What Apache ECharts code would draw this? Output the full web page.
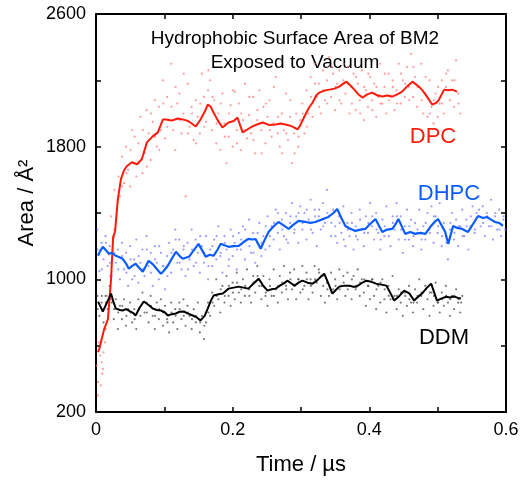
<!DOCTYPE html>
<html>
<head>
<meta charset="utf-8">
<script src="https://cdn.jsdelivr.net/npm/echarts@6/dist/echarts.min.js"></script>
<style>html,body{margin:0;padding:0;background:#fff;}#c{width:522px;height:481px;}</style>
</head>
<body>
<div id="c"></div>
<script>
// ---- data (time in µs, area in Å²) ----
var dpcLineT = [0.003,0.005,0.012,0.0175,0.022,0.025,0.028,0.032,0.0365,0.041,0.045,0.0525,0.060,0.067,0.0745,0.083,0.0905,0.098,0.102,0.111,0.120,0.131,0.136,0.140,0.146,0.153,0.159,0.1635,0.168,0.172,0.178,0.185,0.194,0.2015,0.207,0.2145,0.222,0.229,0.2365,0.244,0.254,0.263,0.270,0.277,0.283,0.289,0.295,0.299,0.305,0.311,0.317,0.3225,0.327,0.334,0.3415,0.349,0.356,0.362,0.3665,0.372,0.378,0.384,0.390,0.397,0.404,0.4115,0.419,0.426,0.4335,0.441,0.448,0.4555,0.463,0.470,0.477,0.4845,0.492,0.498,0.502,0.5095,0.515,0.521,0.5285];
var dpcLineV = [560,584,700,760,1000,1250,1292,1484,1604,1658,1682,1706,1694,1724,1826,1862,1886,1964,1964,1958,1970,1960,1952,1940,1922,1964,2010,2054,2040,2006,1960,1916,1946,1955,1976,1886,1905,1922,1935,1946,1930,1934,1940,1934,1928,1918,1904,1930,1982,2030,2066,2110,2126,2138,2144,2150,2162,2180,2192,2170,2144,2115,2096,2115,2126,2110,2102,2108,2102,2115,2132,2165,2192,2170,2144,2100,2054,2065,2084,2144,2140,2144,2132];

var dhpcLineT = [0.003,0.006,0.010,0.0145,0.019,0.023,0.029,0.0335,0.039,0.044,0.048,0.0525,0.058,0.063,0.0685,0.073,0.077,0.082,0.085,0.0905,0.095,0.099,0.105,0.111,0.117,0.1225,0.127,0.131,0.136,0.143,0.150,0.156,0.1605,0.1665,0.172,0.178,0.1825,0.188,0.194,0.2015,0.209,0.216,0.223,0.229,0.2335,0.241,0.2465,0.2525,0.260,0.267,0.2745,0.282,0.289,0.2965,0.3065,0.314,0.321,0.330,0.340,0.3475,0.353,0.359,0.365,0.372,0.3795,0.387,0.394,0.4015,0.409,0.4145,0.419,0.426,0.4335,0.438,0.4425,0.448,0.4525,0.460,0.467,0.4745,0.482,0.489,0.4965,0.5005,0.5065,0.511,0.5155,0.5225,0.5285,0.536,0.540,0.5445,0.552,0.559,0.5665,0.572,0.578,0.584,0.590,0.5955];
var dhpcLineV = [1142,1170,1196,1175,1154,1160,1142,1135,1124,1095,1064,1080,1094,1070,1046,1080,1112,1095,1082,1055,1034,1050,1082,1125,1166,1140,1124,1130,1136,1175,1214,1170,1136,1148,1142,1180,1214,1205,1196,1200,1202,1225,1244,1240,1243,1184,1235,1286,1320,1346,1325,1304,1330,1352,1346,1340,1346,1360,1376,1400,1424,1370,1322,1305,1292,1300,1304,1335,1364,1320,1286,1300,1304,1330,1364,1315,1274,1285,1274,1280,1274,1315,1350,1364,1320,1286,1214,1322,1310,1304,1295,1286,1335,1382,1370,1376,1360,1346,1340,1322];

var ddmLineT = [0.003,0.006,0.010,0.016,0.022,0.025,0.029,0.035,0.039,0.044,0.048,0.054,0.058,0.064,0.070,0.077,0.083,0.089,0.095,0.101,0.105,0.111,0.117,0.1225,0.1285,0.134,0.1415,0.1475,0.153,0.159,0.1635,0.168,0.172,0.1795,0.1855,0.190,0.194,0.2015,0.209,0.216,0.223,0.2305,0.238,0.245,0.251,0.257,0.263,0.2685,0.2745,0.280,0.286,0.2905,0.2965,0.302,0.3095,0.317,0.324,0.330,0.334,0.340,0.346,0.352,0.356,0.3635,0.371,0.3765,0.381,0.388,0.3955,0.403,0.410,0.4175,0.425,0.4305,0.4365,0.444,0.451,0.4585,0.4655,0.4715,0.477,0.4845,0.4905,0.495,0.499,0.505,0.5125,0.518,0.524,0.530,0.534];
var ddmLineV = [866,840,806,860,914,870,824,815,812,820,812,798,782,830,866,845,824,815,812,800,782,790,794,805,806,795,782,770,752,780,824,870,902,910,914,930,944,950,956,950,944,975,1004,960,932,940,944,960,974,992,975,962,980,992,980,974,995,1020,1034,975,914,940,956,962,962,955,956,975,992,985,974,968,962,920,872,900,932,915,872,895,914,950,974,920,872,884,895,890,896,888,884];

var dpcPts = [[0.001,480],[0.003,380],[0.004,620],[0.006,540],[0.008,500],[0.009,430],[0.011,560],[0.013,620],[0.016,900],[0.019,1150],[0.022,1380],[0.025,1260],[0.027,1540],[0.030,1420],[0.033,1620],[0.035,1500],[0.038,1740],[0.041,1580],[0.044,1800],[0.047,1660],[0.050,1560],[0.053,1900],[0.056,1700],[0.059,1620],[0.062,1820],[0.065,1980],[0.068,1640],[0.071,1760],[0.074,2020],[0.077,1880],[0.080,1720],[0.083,1950],[0.086,2080],[0.089,1800],[0.092,2040],[0.095,1900],[0.098,2200],[0.101,1850],[0.104,2100],[0.107,1960],[0.110,2300],[0.113,1900],[0.116,1780],[0.119,2060],[0.122,2120],[0.125,1880],[0.128,2000],[0.131,1500],[0.134,2180],[0.137,1920],[0.140,2040],[0.143,1840],[0.146,2080],[0.149,1980],[0.152,1880],[0.155,2240],[0.158,2100],[0.161,1950],[0.164,2140],[0.167,2200],[0.170,1900],[0.173,2080],[0.176,1820],[0.179,2000],[0.182,1780],[0.185,2120],[0.188,1940],[0.191,1700],[0.194,1860],[0.197,2050],[0.200,1800],[0.203,2130],[0.206,1900],[0.209,2060],[0.212,1780],[0.215,1960],[0.218,2180],[0.221,1850],[0.224,1990],[0.227,1880],[0.230,2100],[0.233,1760],[0.236,1960],[0.239,2140],[0.242,1900],[0.245,2040],[0.248,1820],[0.251,1980],[0.254,2080],[0.257,1860],[0.260,1940],[0.263,2220],[0.266,1880],[0.269,1800],[0.272,2000],[0.275,1900],[0.278,2120],[0.281,1840],[0.284,1980],[0.287,1700],[0.290,1880],[0.293,2000],[0.296,1800],[0.299,1960],[0.302,2060],[0.305,1880],[0.308,2140],[0.311,2000],[0.314,2220],[0.317,1980],[0.320,2300],[0.323,2100],[0.326,2180],[0.329,2000],[0.332,2260],[0.335,2080],[0.338,2200],[0.341,2340],[0.344,2100],[0.347,2240],[0.350,2020],[0.353,2180],[0.356,2260],[0.359,2060],[0.362,2200],[0.365,2120],[0.368,2280],[0.371,2000],[0.374,2160],[0.377,2240],[0.380,2020],[0.383,2180],[0.386,2080],[0.389,2260],[0.392,1960],[0.395,2140],[0.398,2040],[0.401,2220],[0.404,2080],[0.407,2180],[0.410,1980],[0.413,2100],[0.416,2300],[0.419,2060],[0.422,2160],[0.425,2000],[0.428,2240],[0.431,2100],[0.434,2200],[0.437,2020],[0.440,2140],[0.443,2300],[0.446,2060],[0.449,2200],[0.452,2100],[0.455,2280],[0.458,2160],[0.461,2360],[0.464,2100],[0.467,2220],[0.470,2040],[0.473,2160],[0.476,2300],[0.479,2000],[0.482,2120],[0.485,1980],[0.488,2200],[0.491,2040],[0.494,1940],[0.497,2120],[0.500,1980],[0.503,2060],[0.506,2200],[0.509,2000],[0.512,2160],[0.515,2260],[0.518,2080],[0.521,2200],[0.524,2040],[0.527,2320],[0.530,2120],[0.533,2000],
[0.0025,300],[0.007,360],[0.010,460],[0.0145,700],[0.0205,1020],[0.0265,1300],[0.0325,1480],[0.0385,1560],[0.0445,1640],[0.0505,1780],[0.0565,1860],[0.0625,1700],[0.0685,1900],[0.0745,1680],[0.0805,2000],[0.0865,1860],[0.0925,1780],[0.0985,2060],[0.1045,1920],[0.1105,2040],[0.1165,2160],[0.1225,1960],[0.1285,2240],[0.1345,1880],[0.1405,2000],[0.1465,1820],[0.1525,2060],[0.1585,1920],[0.1645,2260],[0.1705,2100],[0.1765,1940],[0.1825,2060],[0.1885,1860],[0.1945,2000],[0.2005,2140],[0.2065,1820],[0.2125,2000],[0.2185,1900],[0.2245,2100],[0.2305,1840],[0.2365,2020],[0.2425,1760],[0.2485,2060],[0.2545,1900],[0.2605,2160],[0.2665,1980],[0.2725,1760],[0.2785,1880],[0.2845,2080],[0.2905,1760],[0.2965,1860],[0.3025,2000],[0.3085,1920],[0.3145,2100],[0.3205,2180],[0.3265,2040],[0.3325,2140],[0.3385,2060],[0.3445,2280],[0.3505,2160],[0.3565,2080],[0.3625,2300],[0.3685,2180],[0.3745,2060],[0.3805,2220],[0.3865,2000],[0.3925,2160],[0.3985,2240],[0.4045,2020],[0.4105,2160],[0.4165,2060],[0.4225,2240],[0.4285,2080],[0.4345,2160],[0.4405,2060],[0.4465,2240],[0.4525,2180],[0.4585,2080],[0.4645,2280],[0.4705,2160],[0.4765,2080],[0.4825,2220],[0.4885,2000],[0.4945,2080],[0.5005,2160],[0.5065,2060],[0.5125,2240],[0.5185,2140],[0.5245,2200],[0.5305,2060]];

var dhpcPts = [[0.002,1300],[0.005,1050],[0.008,1220],[0.011,1120],[0.014,1260],[0.017,1080],[0.020,1200],[0.023,1020],[0.026,1250],[0.029,1100],[0.032,1180],[0.035,1000],[0.038,1220],[0.041,1060],[0.044,1160],[0.047,960],[0.050,1200],[0.053,1000],[0.056,1120],[0.059,1240],[0.062,980],[0.065,1100],[0.068,1180],[0.071,1020],[0.074,1260],[0.077,1080],[0.080,1160],[0.083,960],[0.086,1200],[0.089,1100],[0.092,1000],[0.095,1160],[0.098,1080],[0.101,940],[0.104,1140],[0.107,1220],[0.110,1040],[0.113,1180],[0.116,1300],[0.119,1100],[0.122,1240],[0.125,1060],[0.128,1180],[0.131,1020],[0.134,1220],[0.137,1120],[0.140,1300],[0.143,1080],[0.146,1240],[0.149,1160],[0.152,1040],[0.155,1200],[0.158,1100],[0.161,1260],[0.164,1000],[0.167,1180],[0.170,1080],[0.173,1240],[0.176,1120],[0.179,1320],[0.182,1140],[0.185,1040],[0.188,1260],[0.191,1180],[0.194,1080],[0.197,1300],[0.200,1140],[0.203,1220],[0.206,1060],[0.209,1280],[0.212,1180],[0.215,1320],[0.218,1120],[0.221,1240],[0.224,1360],[0.227,1160],[0.230,1280],[0.233,1100],[0.236,1220],[0.239,1340],[0.242,1140],[0.245,1260],[0.248,1180],[0.251,1380],[0.254,1200],[0.257,1320],[0.260,1240],[0.263,1420],[0.266,1280],[0.269,1180],[0.272,1360],[0.275,1260],[0.278,1400],[0.281,1220],[0.284,1340],[0.287,1460],[0.290,1280],[0.293,1380],[0.296,1220],[0.299,1440],[0.302,1300],[0.305,1400],[0.308,1240],[0.311,1360],[0.314,1480],[0.317,1280],[0.320,1420],[0.323,1200],[0.326,1380],[0.329,1300],[0.332,1460],[0.335,1340],[0.338,1540],[0.341,1380],[0.344,1260],[0.347,1420],[0.350,1320],[0.353,1220],[0.356,1380],[0.359,1280],[0.362,1440],[0.365,1200],[0.368,1340],[0.371,1260],[0.374,1400],[0.377,1180],[0.380,1320],[0.383,1240],[0.386,1420],[0.389,1300],[0.392,1200],[0.395,1380],[0.398,1280],[0.401,1460],[0.404,1320],[0.407,1240],[0.410,1400],[0.413,1280],[0.416,1180],[0.419,1360],[0.422,1260],[0.425,1440],[0.428,1300],[0.431,1200],[0.434,1380],[0.437,1300],[0.440,1460],[0.443,1240],[0.446,1380],[0.449,1160],[0.452,1320],[0.455,1420],[0.458,1240],[0.461,1360],[0.464,1200],[0.467,1340],[0.470,1280],[0.473,1420],[0.476,1180],[0.479,1320],[0.482,1240],[0.485,1400],[0.488,1300],[0.491,1440],[0.494,1220],[0.497,1380],[0.500,1280],[0.503,1460],[0.506,1200],[0.509,1340],[0.512,1260],[0.515,1120],[0.518,1300],[0.521,1400],[0.524,1240],[0.527,1360],[0.530,1200],[0.533,1320],[0.536,1420],[0.539,1260],[0.542,1360],[0.545,1180],[0.548,1320],[0.551,1440],[0.554,1280],[0.557,1400],[0.560,1500],[0.563,1320],[0.566,1440],[0.569,1260],[0.572,1400],[0.575,1320],[0.578,1480],[0.581,1240],[0.584,1380],[0.587,1300],[0.590,1420],[0.593,1260],[0.596,1360],[0.599,1300],
[0.0025,1180],[0.0085,1060],[0.0145,1220],[0.0205,1100],[0.0265,1160],[0.0325,1060],[0.0385,1140],[0.0445,1040],[0.0505,1120],[0.0565,1020],[0.0625,1140],[0.0685,1060],[0.0745,1180],[0.0805,1040],[0.0865,1120],[0.0925,1200],[0.0985,1080],[0.1045,1020],[0.1105,1160],[0.1165,1240],[0.1225,1100],[0.1285,1200],[0.1345,1060],[0.1405,1180],[0.1465,1100],[0.1525,1260],[0.1585,1160],[0.1645,1080],[0.1705,1200],[0.1765,1260],[0.1825,1160],[0.1885,1220],[0.1945,1120],[0.2005,1260],[0.2065,1180],[0.2125,1240],[0.2185,1300],[0.2245,1200],[0.2305,1160],[0.2365,1280],[0.2425,1220],[0.2485,1320],[0.2545,1260],[0.2605,1340],[0.2665,1400],[0.2725,1300],[0.2785,1240],[0.2845,1380],[0.2905,1300],[0.2965,1400],[0.3025,1340],[0.3085,1420],[0.3145,1300],[0.3205,1380],[0.3265,1420],[0.3325,1320],[0.3385,1400],[0.3445,1340],[0.3505,1260],[0.3565,1340],[0.3625,1240],[0.3685,1300],[0.3745,1340],[0.3805,1260],[0.3865,1360],[0.3925,1280],[0.3985,1340],[0.4045,1380],[0.4105,1300],[0.4165,1240],[0.4225,1320],[0.4285,1260],[0.4345,1340],[0.4405,1380],[0.4465,1300],[0.4525,1240],[0.4585,1320],[0.4645,1260],[0.4705,1300],[0.4765,1240],[0.4825,1340],[0.4885,1280],[0.4945,1380],[0.5005,1320],[0.5065,1260],[0.5125,1220],[0.5185,1340],[0.5245,1280],[0.5305,1320],[0.5365,1260],[0.5425,1320],[0.5485,1380],[0.5545,1300],[0.5605,1420],[0.5665,1340],[0.5725,1380],[0.5785,1320],[0.5845,1400],[0.5905,1300],[0.5965,1380]];

var ddmPts = [[0.002,900],[0.005,780],[0.008,860],[0.011,740],[0.014,900],[0.017,820],[0.020,960],[0.023,860],[0.026,760],[0.029,880],[0.032,700],[0.035,840],[0.038,760],[0.041,880],[0.044,720],[0.047,820],[0.050,860],[0.053,740],[0.056,820],[0.059,700],[0.062,880],[0.065,780],[0.068,920],[0.071,800],[0.074,860],[0.077,740],[0.080,900],[0.083,780],[0.086,700],[0.089,860],[0.092,760],[0.095,880],[0.098,720],[0.101,840],[0.104,760],[0.107,680],[0.110,860],[0.113,740],[0.116,820],[0.119,700],[0.122,860],[0.125,760],[0.128,880],[0.131,720],[0.134,840],[0.137,780],[0.140,700],[0.143,820],[0.146,740],[0.149,860],[0.152,680],[0.155,780],[0.158,640],[0.161,740],[0.164,860],[0.167,780],[0.170,920],[0.173,840],[0.176,1000],[0.179,880],[0.182,800],[0.185,960],[0.188,860],[0.191,1020],[0.194,900],[0.197,840],[0.200,980],[0.203,880],[0.206,1040],[0.209,920],[0.212,860],[0.215,1000],[0.218,900],[0.221,1060],[0.224,940],[0.227,860],[0.230,1020],[0.233,920],[0.236,1080],[0.239,960],[0.242,880],[0.245,1020],[0.248,900],[0.251,840],[0.254,1000],[0.257,900],[0.260,1060],[0.263,940],[0.266,860],[0.269,1020],[0.272,920],[0.275,1080],[0.278,960],[0.281,880],[0.284,1040],[0.287,940],[0.290,1060],[0.293,880],[0.296,1000],[0.299,920],[0.302,1080],[0.305,960],[0.308,1040],[0.311,880],[0.314,1000],[0.317,920],[0.320,1080],[0.323,980],[0.326,1060],[0.329,900],[0.332,1020],[0.335,860],[0.338,980],[0.341,900],[0.344,1040],[0.347,940],[0.350,1000],[0.353,880],[0.356,1060],[0.359,960],[0.362,1020],[0.365,900],[0.368,1040],[0.371,960],[0.374,880],[0.377,1020],[0.380,940],[0.383,1060],[0.386,900],[0.389,1000],[0.392,920],[0.395,840],[0.398,960],[0.401,880],[0.404,1000],[0.407,900],[0.410,820],[0.413,960],[0.416,860],[0.419,1000],[0.422,880],[0.425,800],[0.428,960],[0.431,880],[0.434,1020],[0.437,900],[0.440,820],[0.443,940],[0.446,860],[0.449,780],[0.452,920],[0.455,840],[0.458,960],[0.461,860],[0.464,800],[0.467,940],[0.470,860],[0.473,1000],[0.476,900],[0.479,820],[0.482,960],[0.485,880],[0.488,780],[0.491,920],[0.494,840],[0.497,980],[0.500,860],[0.503,800],[0.506,920],[0.509,840],[0.512,960],[0.515,860],[0.518,780],[0.521,900],[0.524,820],[0.527,940],[0.530,860],[0.533,800],[0.536,900],
[0.0025,820],[0.0085,900],[0.0145,860],[0.0205,880],[0.0265,820],[0.0325,800],[0.0385,840],[0.0445,780],[0.0505,800],[0.0565,760],[0.0625,820],[0.0685,860],[0.0745,800],[0.0805,840],[0.0865,780],[0.0925,820],[0.0985,800],[0.1045,740],[0.1105,800],[0.1165,780],[0.1225,820],[0.1285,780],[0.1345,800],[0.1405,760],[0.1465,780],[0.1525,740],[0.1585,720],[0.1645,800],[0.1705,860],[0.1765,900],[0.1825,940],[0.1885,900],[0.1945,960],[0.2005,920],[0.2065,980],[0.2125,940],[0.2185,960],[0.2245,900],[0.2305,980],[0.2365,1020],[0.2425,960],[0.2485,920],[0.2545,960],[0.2605,900],[0.2665,960],[0.2725,980],[0.2785,940],[0.2845,1000],[0.2905,960],[0.2965,1000],[0.3025,940],[0.3085,1000],[0.3145,960],[0.3205,1000],[0.3265,1040],[0.3325,960],[0.3385,940],[0.3445,920],[0.3505,960],[0.3565,940],[0.3625,980],[0.3685,940],[0.3745,1000],[0.3805,960],[0.3865,980],[0.3925,1000],[0.3985,960],[0.4045,1000],[0.4105,940],[0.4165,980],[0.4225,940],[0.4285,900],[0.4345,880],[0.4405,900],[0.4465,920],[0.4525,900],[0.4585,880],[0.4645,860],[0.4705,900],[0.4765,920],[0.4825,940],[0.4885,920],[0.4945,900],[0.5005,860],[0.5065,880],[0.5125,900],[0.5185,880],[0.5245,900],[0.5305,880],[0.5345,860]];

var xTicks = ['0', '0.2', '0.4', '0.6'];
var yTicks = ['200', '1000', '1800', '2600'];
var titleLines = ['Hydrophobic Surface Area of BM2', 'Exposed to Vacuum'];
var seriesNames = ['DPC', 'DHPC', 'DDM'];
var xName = 'Time / µs';
var yName = 'Area / Å²';

function zip(t, v) { return t.map(function (x, i) { return [x, v[i]]; }); }

var FONT = '"Liberation Sans", Arial, Helvetica, sans-serif';
var chart = echarts.init(document.getElementById('c'), null, { renderer: 'canvas' });

function xAx(pos, showLabel) {
  return {
    type: 'value', position: pos, min: 0, max: 0.6, interval: 0.1,
    axisLine: { show: true, onZero: false, lineStyle: { color: '#000', width: 2 } },
    axisTick: { show: true, inside: true, length: 5, lineStyle: { color: '#000', width: 1.5 } },
    splitLine: { show: false },
    axisLabel: {
      show: showLabel, color: '#000', fontSize: 18, fontFamily: FONT, margin: 9,
      formatter: function (v) {
        var k = Math.round(v * 10);
        return k % 2 === 0 ? xTicks[k / 2] : '';
      }
    },
    name: showLabel ? xName : '', nameLocation: 'middle', nameGap: 42,
    nameTextStyle: { color: '#000', fontSize: 22, fontFamily: FONT }
  };
}
function yAx(pos, showLabel) {
  return {
    type: 'value', position: pos, min: 200, max: 2600, interval: 400,
    axisLine: { show: true, onZero: false, lineStyle: { color: '#000', width: 2 } },
    axisTick: { show: true, inside: true, length: 5, lineStyle: { color: '#000', width: 1.5 } },
    splitLine: { show: false },
    axisLabel: {
      show: showLabel, color: '#000', fontSize: 18, fontFamily: FONT, margin: 10,
      formatter: function (v) {
        var k = Math.round((v - 200) / 400);
        return k % 2 === 0 ? yTicks[k / 2] : '';
      }
    }
  };
}

var option = {
  backgroundColor: '#fff',
  animation: false,
  grid: { left: 96, right: 16, top: 14, bottom: 67, containLabel: false },
  xAxis: [xAx('bottom', true), xAx('top', false)],
  yAxis: [yAx('left', true), yAx('right', false)],
  graphic: [
    { type: 'text', x: 27, y: 203, rotation: Math.PI / 2, style: { text: yName, fill: '#000', font: '22px ' + FONT, textAlign: 'center', textVerticalAlign: 'middle' } },
    { type: 'text', x: 295, y: 27, style: { text: titleLines.join('\n'), fill: '#000', font: '19px ' + FONT, textAlign: 'center', lineHeight: 24 } },
    { type: 'text', x: 433, y: 126, style: { text: seriesNames[0], fill: '#ff1a0a', font: '22px ' + FONT, textAlign: 'center' } },
    { type: 'text', x: 449, y: 183, style: { text: seriesNames[1], fill: '#0a5cff', font: '22px ' + FONT, textAlign: 'center' } },
    { type: 'text', x: 444, y: 327, style: { text: seriesNames[2], fill: '#000', font: '22px ' + FONT, textAlign: 'center' } }
  ],
  series: [
    { type: 'scatter', data: dpcPts, symbolSize: 2.2, itemStyle: { color: '#ff7070', opacity: 0.7 }, silent: true },
    { type: 'scatter', data: dhpcPts, symbolSize: 2.2, itemStyle: { color: '#7070ff', opacity: 0.7 }, silent: true },
    { type: 'scatter', data: ddmPts, symbolSize: 2.2, itemStyle: { color: '#444', opacity: 0.7 }, silent: true },
    { type: 'line', name: 'DPC', data: zip(dpcLineT, dpcLineV), showSymbol: false, lineStyle: { color: '#ff1a0a', width: 2 }, silent: true },
    { type: 'line', name: 'DHPC', data: zip(dhpcLineT, dhpcLineV), showSymbol: false, lineStyle: { color: '#0a5cff', width: 2.2 }, silent: true },
    { type: 'line', name: 'DDM', data: zip(ddmLineT, ddmLineV), showSymbol: false, lineStyle: { color: '#000', width: 2 }, silent: true }
  ]
};
chart.setOption(option);
</script>
</body>
</html>
